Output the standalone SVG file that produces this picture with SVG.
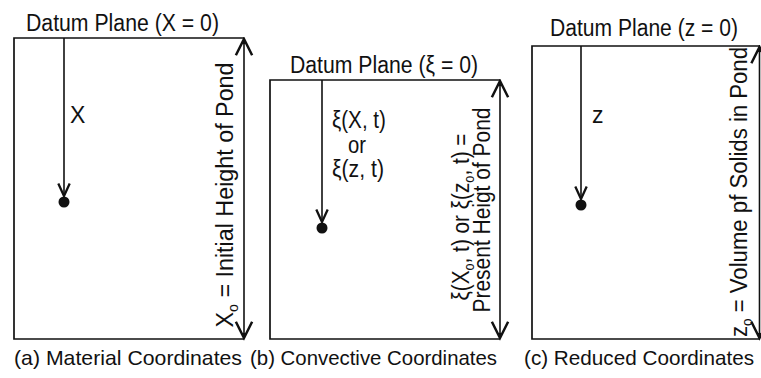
<svg xmlns="http://www.w3.org/2000/svg" width="761" height="378" viewBox="0 0 761 378">
<style>
text{font-family:"Liberation Sans",Arial,sans-serif;font-size:23px;fill:#111}
text.cap{font-size:21px}
.box{fill:none;stroke:#111;stroke-width:1.7}
.ln{fill:none;stroke:#111;stroke-width:1.6}
.sub{font-size:14px}
</style>
<defs>
<marker id="ah" markerUnits="userSpaceOnUse" markerWidth="20" markerHeight="20" viewBox="-14 -8 16 16" refX="0" refY="0" orient="auto-start-reverse">
<path d="M-13,-6.5 L0,0 L-13,6.5 M0,0 L-4,0" fill="none" stroke="#111" stroke-width="2"/>
</marker>
<marker id="as" markerUnits="userSpaceOnUse" markerWidth="16" markerHeight="16" viewBox="-12 -7 14 14" refX="0" refY="0" orient="auto">
<path d="M-11,-5 L0,0 L-11,5" fill="none" stroke="#111" stroke-width="2"/>
</marker>
</defs>
<rect width="761" height="378" fill="#fff"/>
<g id="panel-a">
<path class="box" d="M244,38 H14 V339 H244"/>
<text x="26" y="31" textLength="193" lengthAdjust="spacingAndGlyphs">Datum Plane (X = 0)</text>
<text x="70" y="123">X</text>
<circle cx="64" cy="202" r="5.5" fill="#111"/>
<text transform="translate(233,195) rotate(-90)" text-anchor="middle" textLength="265" lengthAdjust="spacingAndGlyphs">X<tspan class="sub" dy="5">o</tspan><tspan dy="-5"> = Initial Height of Pond</tspan></text>
<text class="cap" x="14" y="365" textLength="228" lengthAdjust="spacingAndGlyphs">(a) Material Coordinates</text>
</g>
<g id="panel-b">
<path class="box" d="M500,80 H270 V339 H500"/>
<text x="290" y="73" textLength="188" lengthAdjust="spacingAndGlyphs">Datum Plane (ξ = 0)</text>
<text x="332" y="128" textLength="54" lengthAdjust="spacingAndGlyphs">ξ(X, t)</text>
<text x="348" y="153" textLength="18" lengthAdjust="spacingAndGlyphs">or</text>
<text x="332" y="177" textLength="52" lengthAdjust="spacingAndGlyphs">ξ(z, t)</text>
<circle cx="322" cy="228" r="5.5" fill="#111"/>
<text transform="translate(469,217) rotate(-90)" text-anchor="middle" textLength="167" lengthAdjust="spacingAndGlyphs">ξ(X<tspan class="sub" dy="5">o</tspan><tspan dy="-5">, t) or ξ(z</tspan><tspan class="sub" dy="5">o</tspan><tspan dy="-5">, t) =</tspan></text>
<text transform="translate(490,210) rotate(-90)" text-anchor="middle" textLength="205" lengthAdjust="spacingAndGlyphs">Present Heigt of Pond</text>
<text class="cap" x="250" y="365" textLength="247" lengthAdjust="spacingAndGlyphs">(b) Convective Coordinates</text>
</g>
<g id="panel-c">
<path class="box" d="M760,46 H532 V339 H760"/>
<text x="550" y="36" textLength="188" lengthAdjust="spacingAndGlyphs">Datum Plane (z = 0)</text>
<text x="592" y="123">z</text>
<circle cx="581" cy="205" r="5.5" fill="#111"/>
<text transform="translate(747,192) rotate(-90)" text-anchor="middle" textLength="290" lengthAdjust="spacingAndGlyphs">z<tspan class="sub" dy="5">o</tspan><tspan dy="-5"> = Volume pf Solids in Pond</tspan></text>
<text class="cap" x="524" y="365" textLength="230" lengthAdjust="spacingAndGlyphs">(c) Reduced Coordinates</text>
</g>
<g id="connectors">
<line class="ln" x1="64" y1="38" x2="64" y2="196" marker-end="url(#as)"/>
<line class="ln" x1="244" y1="39" x2="244" y2="338" marker-start="url(#ah)" marker-end="url(#ah)"/>
<line class="ln" x1="322" y1="80" x2="322" y2="222" marker-end="url(#as)"/>
<line class="ln" x1="500" y1="81" x2="500" y2="338" marker-start="url(#ah)" marker-end="url(#ah)"/>
<line class="ln" x1="581" y1="46" x2="581" y2="199" marker-end="url(#as)"/>
<line class="ln" x1="759.5" y1="47" x2="759.5" y2="338" marker-start="url(#ah)" marker-end="url(#ah)"/>
</g>
</svg>
